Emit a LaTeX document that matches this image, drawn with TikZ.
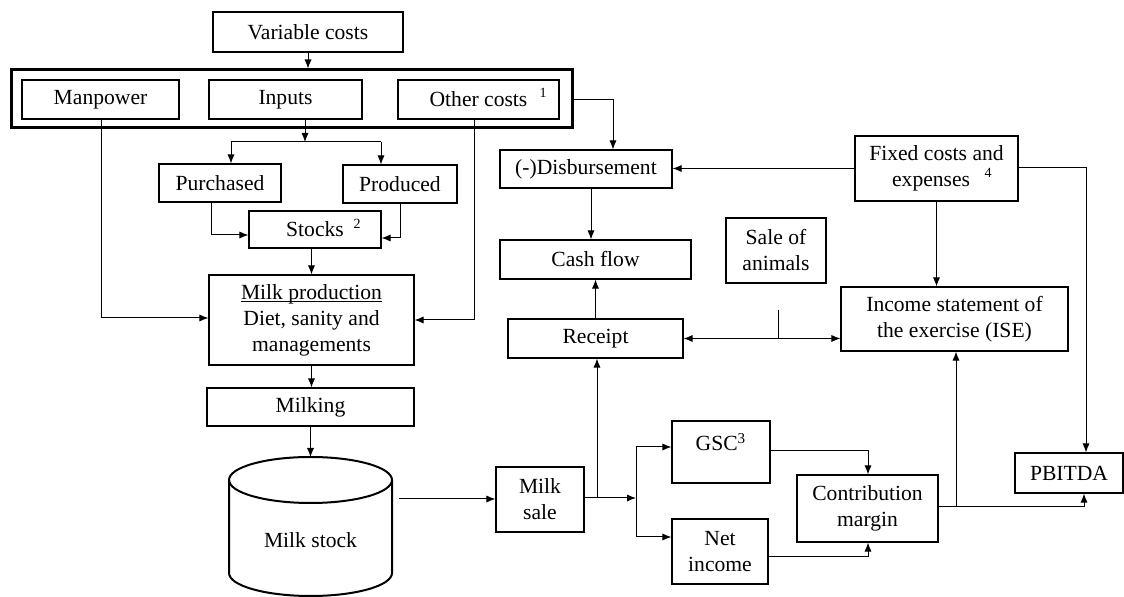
\documentclass[tikz,border=0pt]{standalone}
\usepackage{fontspec}
\setmainfont{Liberation Serif}
\usetikzlibrary{arrows.meta}
\newcommand{\tightul}[1]{{\setbox0\hbox{#1}\rlap{\rule[-1.3pt]{\wd0}{0.5pt}}\box0}}
\begin{document}
\begin{tikzpicture}[x=0.5pt,y=-0.5pt,
  box/.style={draw, line width=0.6pt, inner sep=0pt, align=center, font=\fontsize{10.8}{13}\selectfont},
  sup/.style={inner sep=0pt, font=\fontsize{7}{8}\selectfont},
  ln/.style={line width=0.5pt},
  arr/.style={line width=0.5pt, -{Latex[length=4.5pt,width=3.6pt]}},
  arrb/.style={line width=0.5pt, {Latex[length=4.5pt,width=3.6pt]}-{Latex[length=4.5pt,width=3.6pt]}}]
\useasboundingbox (0,0) rectangle (1124,597);

% boxes
\node[box, minimum width=95pt, minimum height=20pt] (vc) at (308,32) {Variable costs};
\node[draw, line width=1.5pt, minimum width=280.5pt, minimum height=29pt, inner sep=0pt] (outer) at (291.5,99) {};
\node[box, minimum width=78.5pt, minimum height=19.5pt] (man) at (100.5,99.5) {Manpower};
\node[box, minimum width=76.5pt, minimum height=19.5pt] (inp) at (285.5,99.5) {Inputs};
\node[box, minimum width=80.5pt, minimum height=19.5pt] (oth) at (478.5,99.5) {Other costs};
\node[sup] (s1) at (543,93) {1};
\node[box, minimum width=61pt, minimum height=19pt] (pur) at (220,183) {Purchased};
\node[box, minimum width=57pt, minimum height=19pt] (pro) at (400,184) {Produced};
\node[box, minimum width=66pt, minimum height=18.5pt] (sto) at (315,229.5) {Stocks};
\node[sup] (s2) at (357,224) {2};
\node[box, minimum width=102.5pt, minimum height=45pt] (mp) at (311.5,320) {\tightul{Milk production}\\Diet, sanity and\\managements};
\node[box, minimum width=103.5pt, minimum height=19pt] (mk) at (310.5,407) {Milking};

% cylinder
\draw[line width=1pt] (310.5,480) ellipse [x radius=40.75pt, y radius=11.5pt];
\draw[line width=1pt] (229,480) -- (229,573) arc[start angle=180, end angle=360, x radius=40.75pt, y radius=11.5pt] -- (392,480);
\node[inner sep=0pt, font=\fontsize{10.8}{13}\selectfont] (cyl) at (310.5,540) {Milk stock};
\coordinate (cyltop) at (311,457);
\coordinate (cylr) at (399,499);

\node[box, minimum width=44pt, minimum height=32.5pt] (ms) at (540,499.5) {Milk\\sale};
\node[box, minimum width=86pt, minimum height=19pt] (dis) at (586,169) {(-)Disbursement};
\node[box, minimum width=81.5pt, minimum height=32.5pt] (fix) at (936.5,168.5) {Fixed costs and\\expenses\phantom{x}};
\node[sup] (s4) at (988,173) {4};
\node[box, minimum width=95.5pt, minimum height=19.5pt] (cf) at (595.5,259.5) {Cash flow};
\node[box, minimum width=50pt, minimum height=32.5pt] (soa) at (776,250.5) {Sale of\\animals};
\node[box, minimum width=87.5pt, minimum height=19.5pt] (rec) at (595.5,338.5) {Receipt};
\node[box, minimum width=113.5pt, minimum height=32pt] (ise) at (954.5,319) {Income statement of\\the exercise (ISE)};
\node[box, minimum width=49pt, minimum height=31pt] (gsc) at (721,452) {\raisebox{10pt}{GSC\textsuperscript{3}}};
\node[box, minimum width=48pt, minimum height=32.5pt] (ni) at (720,551.5) {Net\\income};
\node[box, minimum width=70.5pt, minimum height=33.5pt] (cm) at (867.5,508.5) {Contribution\\margin};
\node[box, minimum width=54pt, minimum height=20pt] (pb) at (1069,473) {PBITDA};

% coordinates
\coordinate (j1) at (305,142);
\coordinate (jl) at (231,142);
\coordinate (jr) at (381,142);
\coordinate (pb1) at (211,235);
\coordinate (pr1) at (400,238);
\coordinate (m1) at (101,318);
\coordinate (o1) at (474,320);
\coordinate (o2) at (613,100);
\coordinate (f1) at (1086,168);
\coordinate (t1) at (778,310);
\coordinate (j2) at (636,498);
\coordinate (j3) at (597,498);
\coordinate (g1) at (636,447);
\coordinate (n1) at (636,537);
\coordinate (c1) at (868,451);
\coordinate (c2) at (868,557);
\coordinate (c3) at (1084,507);
\coordinate (c4) at (956,507);

% connectors
\draw[arr] (vc.south) -- (vc.south |- outer.north);
\draw[arr] (inp.south -| j1) -- (j1);
\draw[ln] (jl) -- (jr);
\draw[arr] (jl) -- (jl |- pur.north);
\draw[arr] (jr) -- (jr |- pro.north);
\draw[arr] (pb1 |- pur.south) -- (pb1) -- (pb1 -| sto.west);
\draw[arr] (pr1 |- pro.south) -- (pr1) -- (pr1 -| sto.east);
\draw[arr] (mp.north |- sto.south) -- (mp.north);
\draw[arr] (m1 |- man.south) -- (m1) -- (m1 -| mp.west);
\draw[arr] (o1 |- oth.south) -- (o1) -- (o1 -| mp.east);
\draw[arr] (mp.south) -- (mp.south |- mk.north);
\draw[arr] (mk.south) -- (mk.south |- cyltop);
\draw[arr] (cylr) -- (cylr -| ms.west);
\draw[arr] (o2 -| outer.east) -- (o2) -- (o2 |- dis.north);
\draw[arr] (fix.west) -- (fix.west -| dis.east);
\draw[arr] (fix.east |- f1) -- (f1) -- (f1 |- pb.north);
\draw[arr] (fix.south) -- (fix.south |- ise.north);
\draw[arr] ([xshift=2.5pt]dis.south) -- ([xshift=2.5pt]dis.south |- cf.north);
\draw[arr] (rec.north) -- (rec.north |- cf.south);
\draw[arrb] (rec.east) -- (rec.east -| ise.west);
\draw[ln] (t1) -- (t1 |- rec.east);
\draw[arr] (ms.east |- j2) -- (j2);
\draw[arr] (j3) -- (j3 |- rec.south);
\draw[arr] (j2) -- (g1) -- (g1 -| gsc.west);
\draw[arr] (j2) -- (n1) -- (n1 -| ni.west);
\draw[arr] (c1 -| gsc.east) -- (c1) -- (c1 |- cm.north);
\draw[arr] (c2 -| ni.east) -- (c2) -- (c2 |- cm.south);
\draw[arr] (c3 -| cm.east) -- (c3) -- (c3 |- pb.south);
\draw[arr] (c4) -- (c4 |- ise.south);
\end{tikzpicture}
\end{document}
